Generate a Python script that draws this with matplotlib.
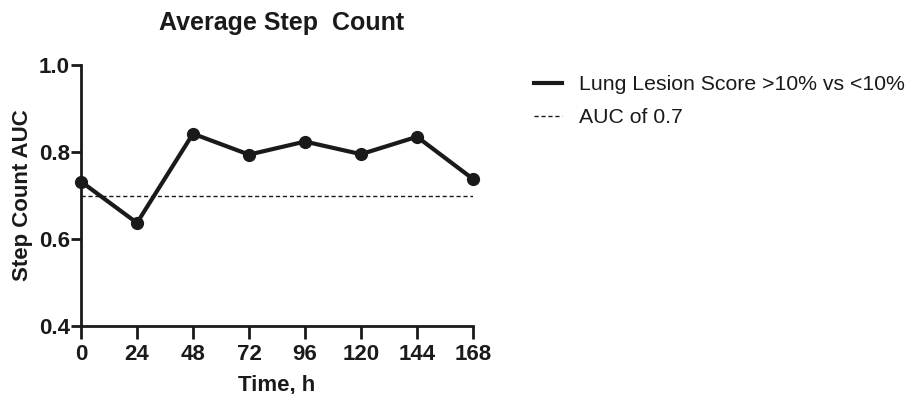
import numpy as np
import matplotlib.pyplot as plt

plt.rcParams['font.family'] = ['Liberation Sans', 'DejaVu Sans']

hours = [0, 24, 48, 72, 96, 120, 144, 168]
auc = [0.732, 0.637, 0.842, 0.794, 0.824, 0.795, 0.835, 0.738]
threshold = 0.7

def main():
    fig = plt.figure(figsize=(9.11, 3.94), dpi=100)
    ax = fig.add_axes([81/911, 1-326/394, 392/911, 261/394])
    ink = "#1a1a1a"
    ax.plot(hours, auc, "-o", color=ink, lw=3, ms=8.5, clip_on=False, zorder=3,
            label="Lung Lesion Score >10% vs <10%")
    ax.axhline(threshold, color=ink, lw=1, ls=(0, (3, 2)), label="AUC of 0.7")
    ax.set_xlim(0, 168)
    ax.set_ylim(0.4, 1.0)
    ax.set_xticks(hours)
    ax.set_yticks([0.4, 0.6, 0.8, 1.0])
    ax.set_yticklabels(["0.4", "0.6", "0.8", "1.0"])
    for s in ["top", "right"]:
        ax.spines[s].set_visible(False)
    for s in ["left", "bottom"]:
        ax.spines[s].set_linewidth(2)
        ax.spines[s].set_color(ink)
    ax.tick_params(width=2, color=ink, labelsize=16, labelcolor=ink)
    ax.tick_params(axis="y", length=7, pad=1)
    ax.tick_params(axis="x", length=9, pad=4)
    for lab in ax.get_xticklabels() + ax.get_yticklabels():
        lab.set_fontweight("bold")
    ax.set_xlabel("Time, h", fontsize=16, fontweight="bold", color=ink, labelpad=7)
    ax.set_ylabel("Step Count AUC", fontsize=16, fontweight="bold", color=ink)
    ax.yaxis.set_label_coords(-0.123, 0.5)
    fig.text(282/911, 1-23/394, "Average Step  Count", fontsize=18, fontweight="bold",
             color=ink, ha="center", va="center")
    handles, labels = ax.get_legend_handles_labels()
    handles[0] = plt.Line2D([], [], color=ink, lw=3)
    fig.legend(handles, labels, loc="upper left", bbox_to_anchor=(515/911, 1-56/394),
               frameon=False, fontsize=15.3, handlelength=1.3, handletextpad=0.8,
               labelspacing=0.65, labelcolor=ink)
    fig.savefig("out.png", dpi=100)

if __name__ == "__main__":
    main()
